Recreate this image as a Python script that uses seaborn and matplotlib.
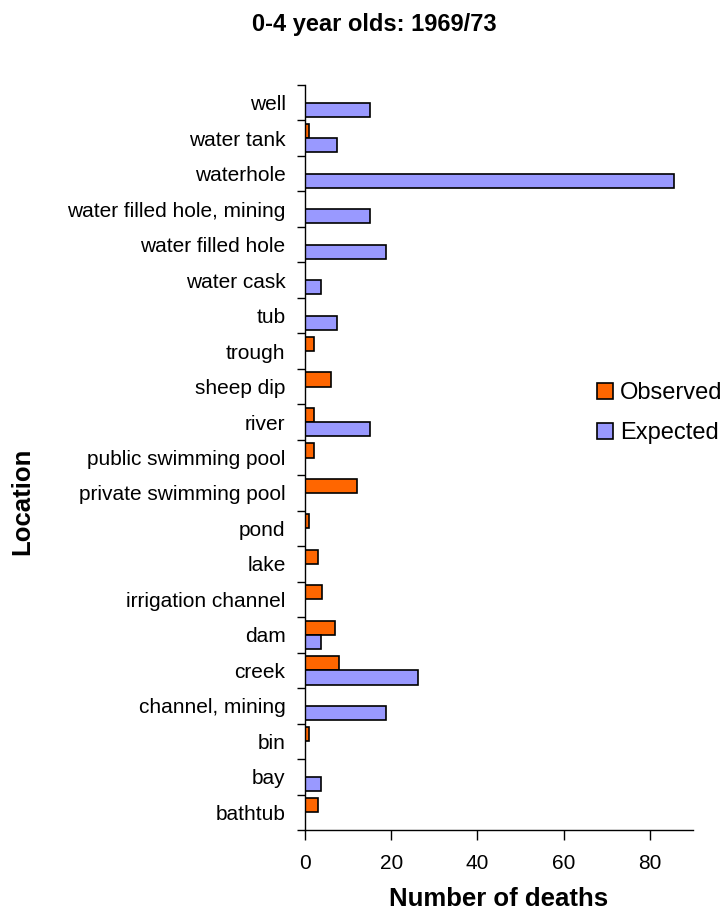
import pandas as pd
import matplotlib.pyplot as plt
import seaborn as sns

# categories top to bottom, as on the chart
locations = [
    "well", "water tank", "waterhole", "water filled hole, mining",
    "water filled hole", "water cask", "tub", "trough", "sheep dip", "river",
    "public swimming pool", "private swimming pool", "pond", "lake",
    "irrigation channel", "dam", "creek", "channel, mining", "bin", "bay",
    "bathtub",
]
observed = [0, 1, 0, 0, 0, 0, 0, 2, 6, 2, 2, 12, 1, 3, 4, 7, 8, 0, 1, 0, 3]
expected = [15, 7.5, 85.6, 15, 18.7, 3.8, 7.5, 0, 0, 15, 0, 0, 0, 0, 0,
            3.8, 26.2, 18.7, 0, 3.8, 0]
series = ["Observed", "Expected"]
colors = ["#FF6600", "#9999FF"]
x_ticks = [0, 20, 40, 60, 80]

df = pd.DataFrame({
    "Location": locations * 2,
    "Series": ["Observed"] * len(locations) + ["Expected"] * len(locations),
    "Deaths": observed + expected,
})
df = df[df["Deaths"] > 0]

sns.set_style("white")
plt.rcParams["font.family"] = ["Liberation Sans", "DejaVu Sans"]
plt.rcParams["text.color"] = "black"
plt.rcParams["xtick.color"] = "black"
plt.rcParams["ytick.color"] = "black"

fig = plt.figure(figsize=(7.25, 9.15), dpi=100)
ax = fig.add_axes([305 / 725, 1 - 830 / 915, 388 / 725, 745 / 915])

sns.barplot(data=df, y="Location", x="Deaths", hue="Series", order=locations,
            hue_order=series, palette=colors, saturation=1, orient="h",
            width=0.8, edgecolor="black", linewidth=1.2, legend=False, ax=ax)

ax.set_xlim(0, 90)
ax.set_xticks(x_ticks)
ax.set_ylim(len(locations) - 0.5, -0.5)
ax.set_xlabel("")
ax.set_ylabel("")

# labels at the centres, tick marks between categories
ax.set_yticks(range(len(locations)))
ax.set_yticklabels(locations)
ax.set_yticks([i - 0.5 for i in range(len(locations) + 1)], minor=True)
ax.tick_params(axis="y", which="major", length=0, pad=14, labelsize=15,
               labelcolor="black")
ax.tick_params(axis="y", which="minor", length=6, width=1, direction="out",
               color="black", left=True)
ax.tick_params(axis="x", length=7, width=1, direction="out", color="black",
               bottom=True, pad=10, labelsize=15, labelcolor="black")

for side in ["top", "right"]:
    ax.spines[side].set_visible(False)
for side in ["left", "bottom"]:
    ax.spines[side].set_color("black")
    ax.spines[side].set_linewidth(1)

ax.legend(ax.containers, series, loc="upper left",
          bbox_to_anchor=(597 / 725, 1 - 382 / 915),
          bbox_transform=fig.transFigure, frameon=False, fontsize=17,
          borderpad=0, borderaxespad=0, handlelength=0.68, handleheight=0.68,
          handletextpad=0.3, labelspacing=0.76)

fig.text(374 / 725, 1 - 24 / 915, "0-4 year olds: 1969/73", ha="center",
         va="center", fontsize=17, fontweight="bold", color="black")
fig.text(499 / 725, 1 - 899 / 915, "Number of deaths", ha="center",
         va="center", fontsize=18.5, fontweight="bold", color="black")
fig.text(22 / 725, 1 - 501 / 915, "Location", ha="center", va="center",
         rotation=90, fontsize=18.5, fontweight="bold", color="black")

fig.savefig("out.png", dpi=100)
plt.close(fig)
